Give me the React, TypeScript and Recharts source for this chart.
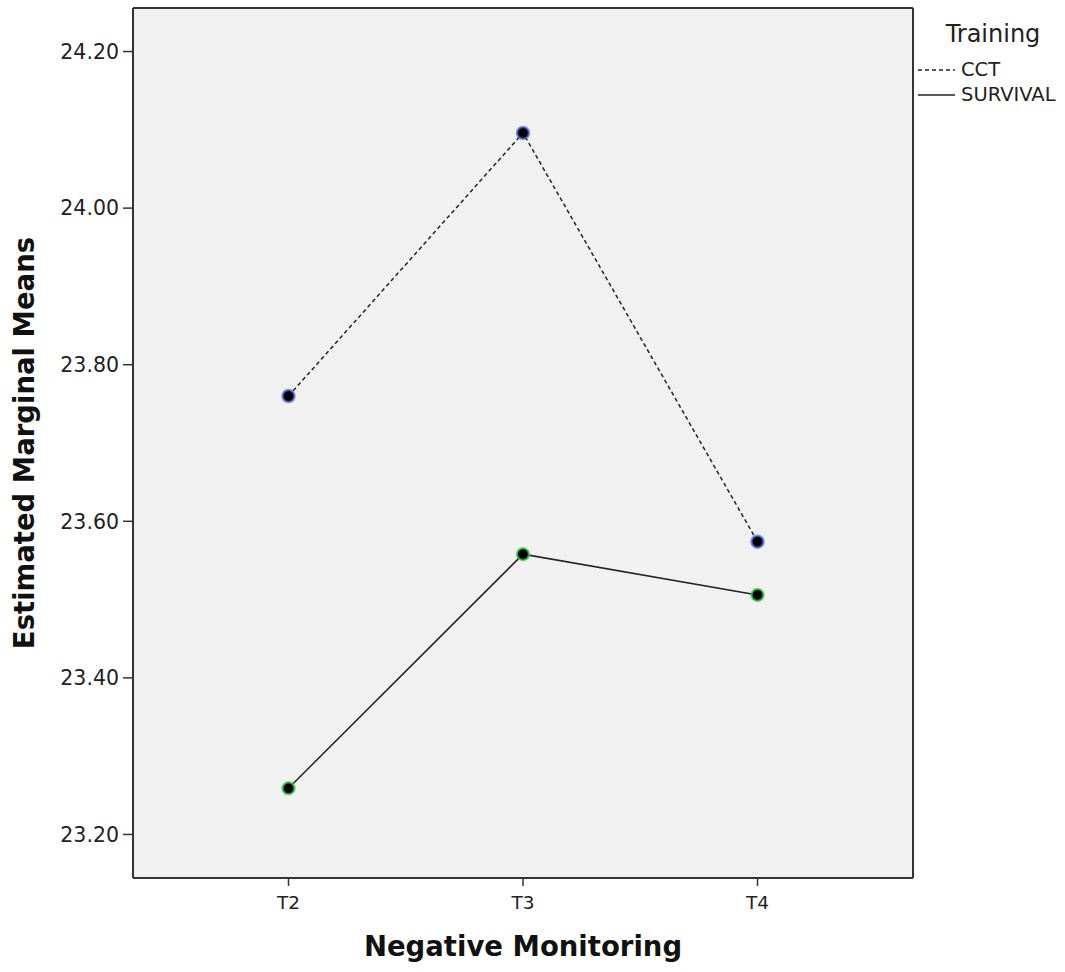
import React from 'react';
import { LineChart, Line, XAxis, YAxis, CartesianGrid, Legend } from 'recharts';

const categories = ['T2', 'T3', 'T4'];
const cctValues = [23.76, 24.096, 23.574];
const survivalValues = [23.259, 23.558, 23.506];
const yTicks = [23.2, 23.4, 23.6, 23.8, 24.0, 24.2];
const seriesNames = ['CCT', 'SURVIVAL'];
const legendTitle = 'Training';
const xTitle = 'Negative Monitoring';
const yTitle = 'Estimated Marginal Means';

const data = categories.map((c, i) => ({ time: c, CCT: cctValues[i], SURVIVAL: survivalValues[i] }));

const FONT = 'DejaVu Sans, sans-serif';
const AXIS = '#333';
const DOMAIN: [number, number] = [23.1444, 24.2556];

const LegendBox = () => (
  <div style={{ fontFamily: FONT, color: '#222', width: 152 }}>
    <div style={{ fontSize: 24, textAlign: 'center', marginTop: 18, marginLeft: 8, lineHeight: '32px' }}>{legendTitle}</div>
    {seriesNames.map((n, i) => (
      <div key={n} style={{ display: 'flex', alignItems: 'center', height: 25, marginLeft: 4, marginTop: i === 0 ? 7 : 0 }}>
        <svg width={40} height={10}>
          <line x1={1} y1={5} x2={38} y2={5} stroke="#222" strokeWidth={1.5} strokeDasharray={i === 0 ? '4 3' : undefined} />
        </svg>
        <span style={{ fontSize: 19.5, marginLeft: 4 }}>{n}</span>
      </div>
    ))}
  </div>
);

const makeDot = (color: string) => (props: any) => {
  const { cx, cy, index } = props;
  return <circle key={index} cx={cx} cy={cy} r={6} fill="#000" stroke={color} strokeWidth={2.5} strokeOpacity={0.7} />;
};

export default function App() {
  return (
    <div style={{ position: 'absolute', left: 0, top: 0, width: 1065, height: 972, background: '#fff' }}>
      <LineChart width={1065} height={972} data={data} margin={{ top: 7, right: 151, bottom: 0, left: 0 }}>
        <CartesianGrid fill="#f1f1f1" horizontal={false} vertical={false} />
        <XAxis
          dataKey="time"
          type="category"
          padding={{ left: 155.5, right: 155.5 }}
          height={94}
          axisLine={{ stroke: AXIS, strokeWidth: 2 }}
          tickLine={{ stroke: AXIS, strokeWidth: 1.5 }}
          tickSize={8}
          tickMargin={10}
          tick={{ fontFamily: FONT, fontSize: 18.5, fill: '#222' }}
          label={{ value: xTitle, position: 'insideBottom', offset: 16, style: { fontFamily: FONT, fontSize: 27.5, fontWeight: 'bold', fill: '#111' } }}
        />
        <XAxis xAxisId="top" dataKey="time" orientation="top" height={1} padding={{ left: 155.5, right: 155.5 }} tick={false} tickLine={false} axisLine={{ stroke: AXIS, strokeWidth: 2 }} />
        <YAxis
          type="number"
          domain={DOMAIN}
          ticks={yTicks}
          allowDataOverflow
          width={133}
          axisLine={{ stroke: AXIS, strokeWidth: 2 }}
          tickLine={{ stroke: AXIS, strokeWidth: 1.5 }}
          tickSize={10}
          tickMargin={4}
          tickFormatter={(v: number) => v.toFixed(2)}
          tick={{ fontFamily: FONT, fontSize: 20.5, fill: '#222' }}
          label={{ value: yTitle, angle: -90, position: 'insideLeft', offset: 24, style: { textAnchor: 'middle', fontFamily: FONT, fontSize: 27.5, fontWeight: 'bold', fill: '#111' } }}
        />
        <YAxis yAxisId="right" orientation="right" type="number" domain={DOMAIN} width={1} tick={false} tickLine={false} axisLine={{ stroke: AXIS, strokeWidth: 2 }} />
        <Legend verticalAlign="middle" align="center" layout="vertical" content={() => <LegendBox />} wrapperStyle={{ top: 0, left: 913, width: 152 }} />
        <Line dataKey="CCT" stroke="#222" strokeWidth={1.5} strokeDasharray="4 3" dot={makeDot('#4a6fe0')} isAnimationActive={false} legendType="none" />
        <Line dataKey="SURVIVAL" stroke="#222" strokeWidth={1.5} dot={makeDot('#3ccf4a')} isAnimationActive={false} legendType="none" />
      </LineChart>
    </div>
  );
}
